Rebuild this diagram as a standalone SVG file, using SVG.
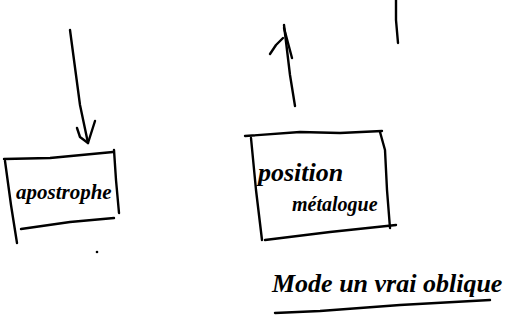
<svg xmlns="http://www.w3.org/2000/svg" width="514" height="321" viewBox="0 0 514 321">
<style>
.ink{fill:none;stroke:#000;stroke-width:2.4;stroke-linecap:round;stroke-linejoin:round}
.hand{font-family:"Liberation Serif",serif;font-style:italic;font-weight:bold;fill:#000}
</style>
<rect width="514" height="321" fill="#fff"/>
<g id="connectors">
<path class="ink" d="M70,30 L74,60 L80,105 L88,143"/>
<path class="ink" d="M77,128 L80,137 L88,143 L95,121"/>
<path class="ink" d="M295,106 L290,75 L284,25"/>
<path class="ink" d="M270,54 L276,45 L283,38 M284,28 L292,58"/>
<path class="ink" d="M396,0 L396,20 L398,43"/>
</g>
<g id="node-apostrophe">
<path class="ink" d="M4,159 L50,158 L113,152"/>
<path class="ink" d="M114,150 L116,180 L119,213"/>
<path class="ink" d="M5,161 L11,205 L17,243"/>
<path class="ink" d="M21,229 L70,222 L114,218"/>
<text class="hand" x="16" y="199" font-size="21">apostrophe</text>
<circle cx="97" cy="252" r="1.3" fill="#000"/>
</g>
<g id="node-position">
<path class="ink" d="M245,136 L300,132 L340,133 L382,131"/>
<path class="ink" d="M380,132 L385,150 L387,190 L390,228"/>
<path class="ink" d="M251,138 L256,190 L262,240"/>
<path class="ink" d="M265,240 L330,232 L396,225"/>
<text class="hand" x="258" y="181" font-size="26">position</text>
<text class="hand" x="292" y="211" font-size="20">métalogue</text>
</g>
<g id="caption">
<text class="hand" x="272" y="292" font-size="26">Mode un vrai oblique</text>
<path class="ink" d="M275,313 L320,311 L400,305 L490,300"/>
</g>
</svg>
